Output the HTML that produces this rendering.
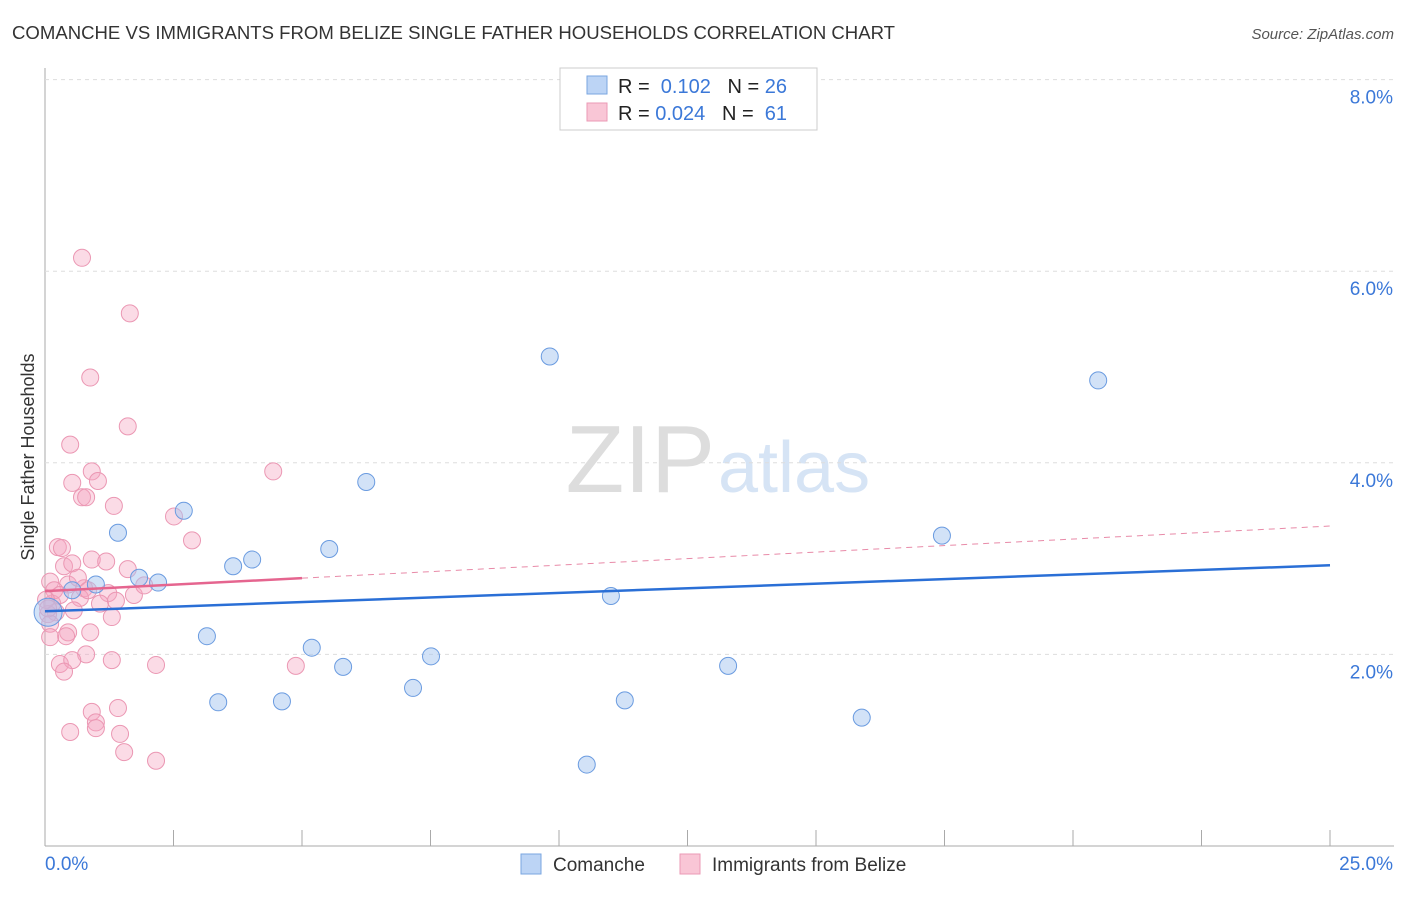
<!DOCTYPE html>
<html><head><meta charset="utf-8"><style>
body{margin:0;background:#fff;font-family:"Liberation Sans",sans-serif;}
svg text{font-family:"Liberation Sans",sans-serif;}
</style></head><body>
<svg id="c" width="1406" height="892">
<text x="12" y="39" font-size="18" fill="#333" textLength="883" lengthAdjust="spacingAndGlyphs">COMANCHE VS IMMIGRANTS FROM BELIZE SINGLE FATHER HOUSEHOLDS CORRELATION CHART</text>
<text x="1394" y="39" font-size="15" fill="#555" font-style="italic" text-anchor="end">Source: ZipAtlas.com</text>
<text x="715" y="492" font-size="96" fill="#ddd" text-anchor="end" font-family="Liberation Serif">ZIP</text>
<text x="718" y="492" font-size="72" fill="#d6e4f5">atlas</text>
<text transform="translate(34,457) rotate(-90)" font-size="18" fill="#333" text-anchor="middle">Single Father Households</text>
<g id="grid"></g><g id="marks"></g>
<g>
<rect x="560" y="68" width="257" height="62" fill="#fff" stroke="#ccc"/>
<rect x="587" y="76" width="20" height="18" fill="#bcd4f5" stroke="#7aa6e0"/>
<rect x="587" y="103" width="20" height="18" fill="#f9c6d6" stroke="#eb9ab5"/>
<text x="618" y="93" font-size="20" fill="#222">R = <tspan fill="#3b78d8">&#160;0.102</tspan>&#160;&#160;&#160;N = <tspan fill="#3b78d8">26</tspan></text>
<text x="618" y="120" font-size="20" fill="#222">R = <tspan fill="#3b78d8">0.024</tspan>&#160;&#160;&#160;N = <tspan fill="#3b78d8">&#160;61</tspan></text>
</g>
<g>
<rect x="521" y="854" width="20" height="20" fill="#bcd4f5" stroke="#7aa6e0"/>
<text x="553" y="871" font-size="19" fill="#333">Comanche</text>
<rect x="680" y="854" width="20" height="20" fill="#f9c6d6" stroke="#eb9ab5"/>
<text x="712" y="871" font-size="19" fill="#333">Immigrants from Belize</text>
</g>
</svg>
<script>
const xTickLabels=["0.0%","25.0%"];
const yTicks=[2,4,6,8];
const blueX=[1.42,2.70,1.83,2.20,0.99,3.15,3.37,3.66,4.03,4.61,5.19,5.53,5.80,6.25,7.16,7.51,9.82,10.54,11.01,11.28,13.29,15.89,17.45,20.49,0.06,0.53];
const blueY=[3.27,3.50,2.80,2.75,2.73,2.19,1.50,2.92,2.99,1.51,2.07,3.10,1.87,3.80,1.65,1.98,5.11,0.85,2.61,1.52,1.88,1.34,3.24,4.86,2.44,2.67];
const pinkX=[0.72,1.65,0.88,1.61,0.49,0.91,4.44,0.53,1.03,0.72,0.80,1.34,2.51,2.86,0.25,0.33,0.91,1.19,0.37,0.53,0.10,0.45,0.76,0.64,1.23,1.61,1.73,1.93,0.68,1.07,1.38,0.14,0.21,0.06,0.10,1.30,0.45,0.88,0.41,0.80,0.10,0.29,0.53,1.30,2.16,4.88,0.37,0.91,1.42,0.99,0.99,0.49,1.46,1.54,2.16,0.18,0.29,0.02,0.06,0.56,0.84];
const pinkY=[6.14,5.56,4.89,4.38,4.19,3.91,3.91,3.79,3.81,3.64,3.64,3.55,3.44,3.19,3.12,3.11,2.99,2.97,2.92,2.95,2.76,2.73,2.69,2.80,2.64,2.89,2.62,2.72,2.59,2.53,2.56,2.53,2.44,2.42,2.32,2.39,2.23,2.23,2.19,2.00,2.18,1.90,1.94,1.94,1.89,1.88,1.82,1.40,1.44,1.29,1.23,1.19,1.17,0.98,0.89,2.67,2.62,2.57,2.48,2.46,2.67];
const blueTrend=[2.45,2.93];
const pinkTrend=[2.66,3.34];
const pinkSolidEnd=5;
const X=v=>45+v*51.4, Y=v=>846-v*95.8;
const NS="http://www.w3.org/2000/svg";
const grid=document.getElementById('grid'), marks=document.getElementById('marks');
function mk(p,tag,a){const e=document.createElementNS(NS,tag);for(const k in a)e.setAttribute(k,a[k]);p.appendChild(e);return e;}
let ax=mk(grid,'line',{x1:45,y1:68,x2:45,y2:846,stroke:'#aaa'});


let bx=mk(grid,'line',{x1:45,y1:846,x2:1394,y2:846,stroke:'#aaa'});


for(let i=0;i<=10;i++){let t=mk(grid,'line',{x1:X(i*2.5),y1:830,x2:X(i*2.5),y2:846,stroke:'#aaa'});

}
yTicks.forEach(v=>{let g=mk(grid,'line',{x1:45,y1:Y(v),x2:1394,y2:Y(v),stroke:'#ddd','stroke-dasharray':'4,4'});


let t=mk(grid,'text',{x:1393,y:Y(v)+24,'font-size':19,fill:'#3b78d8','text-anchor':'end'});t.textContent=v.toFixed(1)+'%';

});
let xl0=mk(grid,'text',{x:45,y:870,'font-size':19,fill:'#3b78d8'});xl0.textContent=xTickLabels[0];


let xl1=mk(grid,'text',{x:1393,y:870,'font-size':19,fill:'#3b78d8','text-anchor':'end'});xl1.textContent=xTickLabels[1];


pinkX.forEach((x,i)=>{let c=mk(marks,'circle',{cx:X(x),cy:Y(pinkY[i]),r:8.5,fill:'rgba(245,165,192,0.4)',stroke:'#eb97b3','stroke-width':1});

});
blueX.forEach((x,i)=>{let c=mk(marks,'circle',{cx:X(x),cy:Y(blueY[i]),r:i==24?14:8.5,fill:'rgba(165,198,240,0.5)',stroke:'#6a9be0','stroke-width':1});

});
const pm=pinkTrend[0]+(pinkTrend[1]-pinkTrend[0])*pinkSolidEnd/25;
let pd=mk(marks,'line',{x1:X(pinkSolidEnd),y1:Y(pm),x2:X(25),y2:Y(pinkTrend[1]),stroke:'#e88aa8','stroke-width':1,'stroke-dasharray':'6,5'});


let ps=mk(marks,'line',{x1:X(0),y1:Y(pinkTrend[0]),x2:X(pinkSolidEnd),y2:Y(pm),stroke:'#e5658f','stroke-width':2.5});


let bl=mk(marks,'line',{x1:X(0),y1:Y(blueTrend[0]),x2:X(25),y2:Y(blueTrend[1]),stroke:'#2a6fd6','stroke-width':2.5});


</script>
</body></html>
